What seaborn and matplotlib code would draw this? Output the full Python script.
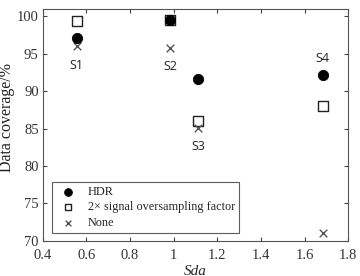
import matplotlib
matplotlib.use('Agg')
import matplotlib.pyplot as plt
import seaborn as sns
import pandas as pd

# Data
samples = ['S1', 'S2', 'S3', 'S4']
sda = [0.555, 0.983, 1.111, 1.683]
hdr = [97.1, 99.5, 91.6, 92.2]
oversampling = [99.4, 99.5, 86.0, 88.0]
none = [96.0, 95.8, 85.1, 71.0]

label_y = [93.4, 93.3, 82.6, 94.4]

sns.set_style('ticks')
plt.rcParams['font.family'] = ['Liberation Serif', 'DejaVu Serif']

fig = plt.figure(figsize=(3.6, 2.76), dpi=100)
ax = fig.add_axes([0.119, 0.127, 0.848, 0.842])

df = pd.DataFrame({'Sda': sda, 'HDR': hdr, 'over': oversampling, 'none': none})

sns.scatterplot(data=df, x='Sda', y='over', ax=ax, marker='s', s=42,
                facecolor='white', edgecolor='#222222', linewidth=1.0,
                label='2\u00d7 signal oversampling factor', zorder=3)
sns.scatterplot(data=df, x='Sda', y='HDR', ax=ax, marker='o', s=55,
                color='black', edgecolor='black',
                label='HDR', zorder=4)
sns.scatterplot(data=df, x='Sda', y='none', ax=ax, marker='x', s=30,
                color='#555555', linewidth=1.0,
                label='None', zorder=3)

for name, xv, yv in zip(samples, sda, label_y):
    ax.text(xv, yv, name, ha='center', va='center', fontsize=9,
            family=['Open Sans', 'DejaVu Sans'], color='#222222')

ax.set_xlim(0.4, 1.8)
ax.set_ylim(70, 101)
ax.set_xticks([0.4, 0.6, 0.8, 1.0, 1.2, 1.4, 1.6, 1.8])
ax.set_xticklabels(['0.4', '0.6', '0.8', '1', '1.2', '1.4', '1.6', '1.8'])
ax.set_yticks([70, 75, 80, 85, 90, 95, 100])
ax.tick_params(direction='in', top=True, right=True, length=3,
               labelsize=10.5, color='#444444', labelcolor='#333333')
ax.tick_params(axis='x', pad=6)
ax.tick_params(axis='y', pad=3)
for sp in ax.spines.values():
    sp.set_visible(True)
    sp.set_color('#555555')
    sp.set_linewidth(0.8)

ax.set_xlabel('Sda', fontsize=11, style='italic', labelpad=2)
ax.set_ylabel('Data coverage/%', fontsize=11.5, color='#222222')
ax.yaxis.set_label_coords(-0.09, 0.53)

# legend order: HDR, oversampling, None
handles, labels = ax.get_legend_handles_labels()
order = [labels.index('HDR'), labels.index('2\u00d7 signal oversampling factor'), labels.index('None')]
leg = ax.legend([handles[i] for i in order], [labels[i] for i in order],
                loc='lower left', bbox_to_anchor=(0.03, 0.034), borderaxespad=0,
                fontsize=8.8, markerscale=0.75,
                frameon=True, fancybox=False, edgecolor='#333333',
                handlelength=2.0, handletextpad=0.6, borderpad=0.32,
                labelspacing=0.3)
leg.get_frame().set_linewidth(0.8)

fig.savefig('out.png', dpi=100)
